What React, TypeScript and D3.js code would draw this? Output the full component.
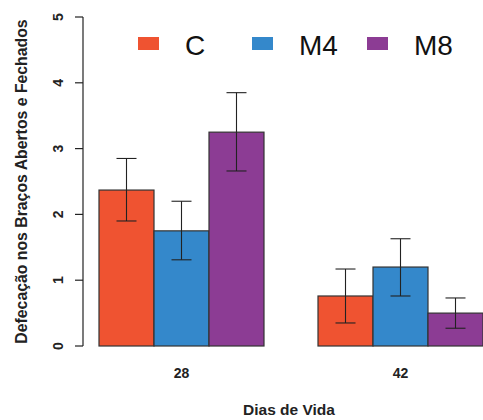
import React from "react";
import * as d3 from "d3";

const days = ["28", "42"];
const groups = ["C", "M4", "M8"];
const colors = ["#EF5331", "#3488CB", "#8C3C94"];
// mean values per day, in order C, M4, M8
const means28 = [2.37, 1.75, 3.25];
const means42 = [0.76, 1.2, 0.5];
// error bar limits
const upper28 = [2.85, 2.2, 3.85];
const lower28 = [1.9, 1.31, 2.66];
const upper42 = [1.17, 1.63, 0.73];
const lower42 = [0.35, 0.76, 0.27];
const yTicks = [0, 1, 2, 3, 4, 5];

const W = 483;
const H = 420;
const font = "'Liberation Sans', Arial, sans-serif";

export default function App() {
  const y = d3.scaleLinear().domain([0, 5]).range([346, 17]);
  const x0 = d3.scaleBand().domain(days).range([99, 483]).paddingInner(0.2466).paddingOuter(0);
  const x1 = d3.scaleBand().domain(groups).range([0, x0.bandwidth()]);

  const rows = [
    { day: "28", means: means28, up: upper28, lo: lower28 },
    { day: "42", means: means42, up: upper42, lo: lower42 },
  ];

  return (
    <svg width={W} height={H} style={{ position: "absolute", left: 0, top: 0, background: "#fff" }}>
      {/* y axis */}
      <line x1={83} x2={83} y1={y(0)} y2={y(5)} stroke="#222" strokeWidth={1.2} />
      {yTicks.map((t) => (
        <g key={t}>
          <line x1={75} x2={83} y1={y(t)} y2={y(t)} stroke="#222" strokeWidth={1.2} />
          <text
            transform={`translate(63,${y(t)}) rotate(-90)`}
            textAnchor="middle"
            fontFamily={font}
            fontWeight="bold"
            fontSize={14}
            fill="#222"
          >
            {t}
          </text>
        </g>
      ))}
      <text
        transform={`translate(27,${(y(0) + y(5)) / 2}) rotate(-90)`}
        textAnchor="middle"
        fontFamily={font}
        fontWeight="bold"
        fontSize={15.8}
        fill="#222"
      >
        Defecação nos Braços Abertos e Fechados
      </text>

      {rows.map((r) => (
        <g key={r.day} transform={`translate(${x0(r.day)},0)`}>
          {groups.map((g, i) => (
            <rect
              key={g}
              x={x1(g)}
              y={y(r.means[i])}
              width={x1.bandwidth()}
              height={y(0) - y(r.means[i])}
              fill={colors[i]}
              stroke="#333"
              strokeWidth={1.2}
            />
          ))}
          {groups.map((g, i) => {
            const cx = (x1(g) as number) + x1.bandwidth() / 2;
            return (
              <g key={g} stroke="#222" strokeWidth={1.1}>
                <line x1={cx} x2={cx} y1={y(r.up[i])} y2={y(r.lo[i])} />
                <line x1={cx - 10} x2={cx + 10} y1={y(r.up[i])} y2={y(r.up[i])} />
                <line x1={cx - 10} x2={cx + 10} y1={y(r.lo[i])} y2={y(r.lo[i])} />
              </g>
            );
          })}
          <text
            x={x0.bandwidth() / 2}
            y={378}
            textAnchor="middle"
            fontFamily={font}
            fontWeight="bold"
            fontSize={14}
            fill="#222"
          >
            {r.day}
          </text>
        </g>
      ))}

      <text x={289} y={415} textAnchor="middle" fontFamily={font} fontWeight="bold" fontSize={15.5} fill="#222">
        Dias de Vida
      </text>

      {/* legend */}
      {groups.map((g, i) => {
        const lx = [138, 252, 367][i];
        return (
          <g key={g}>
            <rect x={lx} y={37} width={21} height={13} fill={colors[i]} />
            <text x={lx + 47} y={55} fontFamily={font} fontSize={28} fill="#111">
              {g}
            </text>
          </g>
        );
      })}
    </svg>
  );
}
